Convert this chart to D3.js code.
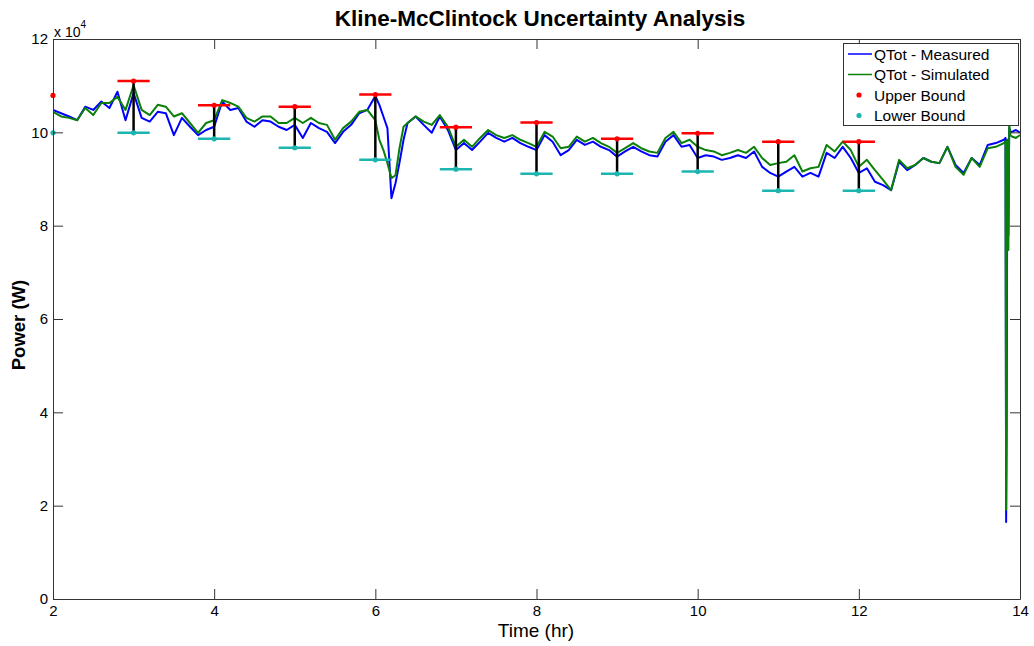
<!DOCTYPE html>
<html>
<head>
<meta charset="utf-8">
<script src="https://cdn.jsdelivr.net/npm/d3@7"></script>
<style>
  html, body { margin: 0; padding: 0; background: #fff; }
  svg { display: block; font-family: "Liberation Sans", Arial, Helvetica, sans-serif; }
</style>
</head>
<body>
<svg id="chart" width="1034" height="646"></svg>
<script>
// Time (hr) samples shared by both power series
const times = [
  2.0, 2.1, 2.2, 2.3, 2.4, 2.5, 2.6, 2.7, 2.8, 2.9,
  3.0, 3.1, 3.2, 3.3, 3.4, 3.5, 3.6, 3.7, 3.8, 3.9,
  4.0, 4.1, 4.2, 4.3, 4.4, 4.5, 4.6, 4.7, 4.8, 4.9,
  5.0, 5.1, 5.2, 5.3, 5.4, 5.5, 5.6, 5.7, 5.8, 5.9,
  6.0, 6.05, 6.1, 6.15, 6.2, 6.25, 6.3, 6.35, 6.4, 6.5, 6.6, 6.7, 6.8, 6.9,
  7.0, 7.1, 7.2, 7.3, 7.4, 7.5, 7.6, 7.7, 7.8, 7.9,
  8.0, 8.1, 8.2, 8.3, 8.4, 8.5, 8.6, 8.7, 8.8, 8.9,
  9.0, 9.1, 9.2, 9.3, 9.4, 9.5, 9.6, 9.7, 9.8, 9.9,
  10.0, 10.1, 10.2, 10.3, 10.4, 10.5, 10.6, 10.7, 10.8, 10.9,
  11.0, 11.1, 11.2, 11.3, 11.4, 11.5, 11.6, 11.7, 11.8, 11.9,
  12.0, 12.1, 12.2, 12.3, 12.4, 12.5, 12.6, 12.7, 12.8, 12.9,
  13.0, 13.1, 13.2, 13.3, 13.4, 13.5, 13.6, 13.7, 13.8,
  13.82, 13.828, 13.834, 13.838, 13.842, 13.856, 13.866, 13.88,
  13.9, 13.95, 14.0
];

// QTot - Measured (W)
const measured = [
  104800, 104100, 103400, 102600, 105500, 104800, 106600, 105200, 108700, 102600,
  108400, 103100, 102300, 104400, 104100, 99400, 103100, 101200, 99400, 100500,
  101200, 106600, 104800, 105200, 102300, 101200, 102600, 102300, 101200, 100500,
  101600, 98800, 102000, 100900, 100100, 97700, 100100, 101600, 104100, 104800,
  107800, 105900, 103400, 100900, 85900, 89100, 93500, 98400, 102000, 103400, 101600, 99900, 103400, 100500,
  96200, 97700, 96200, 98000, 99900, 98800, 98000, 98800, 97700, 96900,
  96200, 99400, 98000, 95100, 96200, 98400, 97300, 98000, 96900, 96200,
  94800, 95900, 96900, 95900, 95100, 94800, 98000, 99400, 96900, 97300,
  94500, 95100, 94800, 94100, 94500, 95100, 94500, 95900, 92600, 91300,
  90500, 91600, 92600, 90500, 91300, 90500, 95600, 94500, 96900, 94500,
  91300, 92300, 89400, 88700, 87600, 93700, 91900, 93000, 94500, 93700,
  93400, 96900, 93000, 91300, 94500, 93000, 97300, 97700, 98400,
  98800, 16500, 38400, 57600, 98400, 78000, 100900, 100100,
  100100, 100500, 99900
];

// QTot - Simulated (W)
const simulated = [
  104400, 103400, 103100, 102600, 105200, 103700, 106300, 106300, 107600, 104800,
  110100, 104800, 103700, 105900, 105500, 103400, 104100, 102000, 99900, 102000,
  102600, 106900, 106300, 105500, 103100, 102300, 103400, 103400, 102000, 102000,
  103100, 102000, 103100, 102000, 101600, 98400, 100900, 102300, 104400, 104800,
  102600, 98400, 96200, 93400, 90200, 90800, 96600, 101200, 102000, 103400, 102300, 101600, 103700, 101200,
  96900, 98400, 96900, 98800, 100500, 99400, 98800, 99400, 98400, 97700,
  96900, 100100, 99100, 96600, 96900, 99100, 98000, 98800, 97700, 96900,
  95600, 96600, 97700, 96600, 95900, 95600, 98800, 100100, 97700, 98400,
  96900, 96200, 95900, 95100, 95600, 96200, 95600, 96900, 94500, 93000,
  93400, 93700, 95100, 91600, 92300, 92600, 97300, 95900, 98000, 96200,
  92600, 94100, 91900, 89800, 87600, 94100, 92300, 93000, 94500, 93700,
  93400, 96900, 92600, 90900, 94500, 92600, 96600, 96900, 97700,
  98100, 19100, 36200, 90000, 98400, 74800, 102000, 99400,
  99100, 98800, 99400
];

// Kline-McClintock bounds (W) at whole hours
const boundTimes = [2, 3, 4, 5, 6, 7, 8, 9, 10, 11, 12];
const upperBound = [107900, 111000, 105800, 105500, 108100, 101100, 102100, 98600, 99800, 98000, 98000];
const lowerBound = [99900, 99900, 98600, 96700, 94100, 92100, 91100, 91100, 91600, 87500, 87500];

// Axis ticks
const xTicks = [2, 4, 6, 8, 10, 12, 14];
const yTicks = [0, 20000, 40000, 60000, 80000, 100000, 120000];

const svg = d3.select("#chart");
const plotLeft = 53, plotRight = 1020, plotTop = 39, plotBottom = 599;

const x = d3.scaleLinear().domain([2, 14]).range([plotLeft, plotRight]);
const y = d3.scaleLinear().domain([0, 120000]).range([plotBottom, plotTop]);

svg.append("rect").attr("width", 1034).attr("height", 646).attr("fill", "#fff");

svg.append("clipPath").attr("id", "plotClip")
  .append("rect").attr("x", plotLeft).attr("y", plotTop)
  .attr("width", plotRight - plotLeft).attr("height", plotBottom - plotTop);

const plot = svg.append("g").attr("clip-path", "url(#plotClip)");

const line = d3.line().x(d => x(d[0])).y(d => y(d[1]));

plot.append("path")
  .datum(times.map((t, i) => [t, measured[i]]))
  .attr("d", line)
  .attr("fill", "none").attr("stroke", "#0000ff")
  .attr("stroke-width", 2).attr("stroke-linejoin", "round");

plot.append("path")
  .datum(times.map((t, i) => [t, simulated[i]]))
  .attr("d", line)
  .attr("fill", "none").attr("stroke", "#0a800a")
  .attr("stroke-width", 2).attr("stroke-linejoin", "round");

// Error bars (from the 3 hr mark onward)
const capHalf = 0.2;
const bars = boundTimes.map((t, i) => ({ t, hi: upperBound[i], lo: lowerBound[i] })).slice(1);

plot.selectAll(".bar").data(bars).join("line")
  .attr("class", "bar")
  .attr("x1", d => x(d.t)).attr("x2", d => x(d.t))
  .attr("y1", d => y(d.lo)).attr("y2", d => y(d.hi))
  .attr("stroke", "#000").attr("stroke-width", 2.5);

plot.selectAll(".capHi").data(bars).join("line")
  .attr("class", "capHi")
  .attr("x1", d => x(d.t - capHalf)).attr("x2", d => x(d.t + capHalf))
  .attr("y1", d => y(d.hi)).attr("y2", d => y(d.hi))
  .attr("stroke", "#ff0000").attr("stroke-width", 2.5);

plot.selectAll(".capLo").data(bars).join("line")
  .attr("class", "capLo")
  .attr("x1", d => x(d.t - capHalf)).attr("x2", d => x(d.t + capHalf))
  .attr("y1", d => y(d.lo)).attr("y2", d => y(d.lo))
  .attr("stroke", "#1cb5b0").attr("stroke-width", 2.5);

const pts = boundTimes.map((t, i) => ({ t, hi: upperBound[i], lo: lowerBound[i] }));
svg.selectAll(".dotHi").data(pts).join("circle")
  .attr("class", "dotHi")
  .attr("cx", d => x(d.t)).attr("cy", d => y(d.hi)).attr("r", 2.6)
  .attr("fill", "#ff0000");
svg.selectAll(".dotLo").data(pts).join("circle")
  .attr("class", "dotLo")
  .attr("cx", d => x(d.t)).attr("cy", d => y(d.lo)).attr("r", 2.6)
  .attr("fill", "#1cb5b0");

// Axes with inward ticks, boxed
const axisColor = "#333";
function styleAxis(g) {
  g.selectAll("path.domain").attr("stroke", axisColor);
  g.selectAll(".tick line").attr("stroke", axisColor);
  g.selectAll(".tick text").attr("fill", "#000").attr("font-size", 15)
    .attr("font-family", "Liberation Sans, Arial, sans-serif");
}

svg.append("g").attr("transform", `translate(0,${plotBottom})`)
  .call(d3.axisBottom(x).tickValues(xTicks).tickSize(-10).tickSizeOuter(0).tickPadding(6).tickFormat(d3.format("d")))
  .call(styleAxis);
svg.append("g").attr("transform", `translate(0,${plotTop})`)
  .call(d3.axisTop(x).tickValues(xTicks).tickSize(-10).tickSizeOuter(0).tickFormat(""))
  .call(styleAxis);
svg.append("g").attr("transform", `translate(${plotLeft},0)`)
  .call(d3.axisLeft(y).tickValues(yTicks).tickSize(-10).tickSizeOuter(0).tickPadding(5).tickFormat(d => d / 10000))
  .call(styleAxis);
svg.append("g").attr("transform", `translate(${plotRight},0)`)
  .call(d3.axisRight(y).tickValues(yTicks).tickSize(-10).tickSizeOuter(0).tickFormat(""))
  .call(styleAxis);

// Exponent marker
const expo = svg.append("text").attr("x", 54).attr("y", 37).attr("font-size", 14).attr("fill", "#000");
expo.append("tspan").text("x 10");
expo.append("tspan").attr("dy", -9).attr("font-size", 10).text("4");

// Title and axis labels
svg.append("text").attr("x", 540).attr("y", 26).attr("text-anchor", "middle")
  .attr("font-size", 22.5).attr("font-weight", "bold").text("Kline-McClintock Uncertainty Analysis");
svg.append("text").attr("x", 536).attr("y", 637).attr("text-anchor", "middle")
  .attr("font-size", 19).text("Time (hr)");
svg.append("text").attr("transform", "translate(25,325) rotate(-90)").attr("text-anchor", "middle")
  .attr("font-size", 18.5).attr("font-weight", "bold").text("Power (W)");

// Legend
const legendItems = [
  { label: "QTot - Measured", kind: "line", color: "#0000ff" },
  { label: "QTot - Simulated", kind: "line", color: "#0a800a" },
  { label: "Upper Bound", kind: "dot", color: "#ff0000" },
  { label: "Lower Bound", kind: "dot", color: "#1cb5b0" }
];
const lg = svg.append("g");
lg.append("rect").attr("x", 843.5).attr("y", 43.5).attr("width", 175).attr("height", 82)
  .attr("fill", "#fff").attr("stroke", "#333").attr("stroke-width", 1);
legendItems.forEach((d, i) => {
  const cy = 54 + i * 20.5;
  if (d.kind === "line") {
    lg.append("line").attr("x1", 848).attr("x2", 872).attr("y1", cy).attr("y2", cy)
      .attr("stroke", d.color).attr("stroke-width", 1.5);
  } else {
    lg.append("circle").attr("cx", 859).attr("cy", cy).attr("r", 2.6).attr("fill", d.color);
  }
  lg.append("text").attr("x", 874).attr("y", cy + 5.5).attr("font-size", 15.5).attr("fill", "#000").text(d.label);
});
</script>
</body>
</html>
